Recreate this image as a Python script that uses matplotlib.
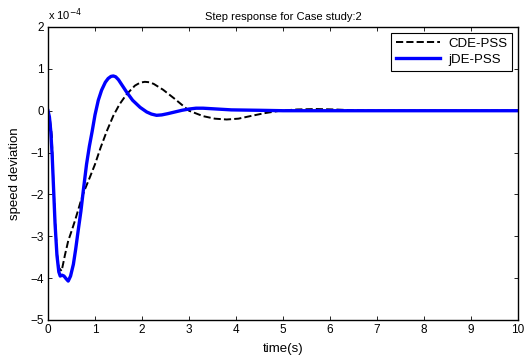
import matplotlib
matplotlib.use("Agg")
import matplotlib.pyplot as plt

plt.rcParams['font.family'] = ['Liberation Sans', 'DejaVu Sans']

# time (s) and speed deviation (x 1e-4)
t_cde = [0, 0.04, 0.08, 0.11, 0.15, 0.19, 0.23, 0.29, 0.36, 0.43, 0.50, 0.57,
         0.64, 0.70, 0.77, 0.88, 1.0, 1.12, 1.25, 1.39, 1.52, 1.67, 1.85,
         1.96, 2.06, 2.16, 2.25, 2.45, 2.7, 3.0, 3.3, 3.55, 3.8, 4.05, 4.3, 4.6, 4.94,
         5.3, 5.7, 6.1, 6.5, 7, 8, 9, 10]
y_cde = [0, -0.2, -0.6, -1.6, -2.6, -3.4, -3.75, -3.83, -3.45, -3.11, -2.88, -2.64,
         -2.38, -2.15, -1.92, -1.62, -1.28, -0.88, -0.49, -0.12, 0.15, 0.39, 0.6,
         0.67, 0.69, 0.68, 0.64, 0.5, 0.28, 0.0, -0.13, -0.19, -0.21, -0.19, -0.13, -0.06, 0.0,
         0.03, 0.04, 0.03, 0.01, 0, 0, 0, 0]

t_jde = [0, 0.03, 0.06, 0.09, 0.12, 0.15, 0.19, 0.23, 0.26, 0.30, 0.34, 0.39, 0.43,
         0.48, 0.54, 0.59, 0.64, 0.70, 0.75, 0.82, 0.88, 0.94, 1.0, 1.07,
         1.14, 1.22, 1.28, 1.34, 1.39, 1.44, 1.50, 1.57, 1.67, 1.80, 1.96, 2.1, 2.2, 2.31, 2.42, 2.55,
         2.7, 2.85, 3.0, 3.15, 3.3, 3.6, 3.9, 4.5, 5, 6, 7, 8, 9, 10]
y_jde = [0, -0.15, -0.5, -1.1, -1.9, -2.7, -3.45, -3.85, -3.95, -3.93, -3.95, -4.02, -4.07,
         -3.95, -3.67, -3.3, -2.88, -2.4, -1.92, -1.28, -0.85, -0.49, -0.1, 0.25,
         0.49, 0.68, 0.77, 0.82, 0.83, 0.81, 0.74, 0.62, 0.45, 0.25, 0.08, -0.03, -0.08, -0.11, -0.1, -0.07,
         -0.03, 0.01, 0.04, 0.06, 0.06, 0.04, 0.02, 0.01, 0, 0, 0, 0, 0, 0]

xticks = list(range(0, 11))
yticks = [-5, -4, -3, -2, -1, 0, 1, 2]

fig = plt.figure(figsize=(5.24, 3.58), dpi=100)
ax = fig.add_axes([48/524, 1-320/358, (518-48)/524, (320-27)/358])

ax.plot(t_cde, y_cde, 'k--', lw=1.4, label='CDE-PSS')
ax.plot(t_jde, y_jde, color='#0000ff', lw=2.4, label='jDE-PSS')

ax.set_xlim(0, 10)
ax.set_ylim(-5, 2)
ax.set_xticks(xticks)
ax.set_yticks(yticks)
ax.tick_params(direction='in', top=True, right=True, labelsize=8.5, length=3,
               width=0.6, pad=3)
for s in ax.spines.values():
    s.set_linewidth(1.0)

ax.set_title('Step response for Case study:2', fontsize=8, pad=5)
ax.set_xlabel('time(s)', fontsize=9.5, labelpad=5)
ax.set_ylabel('speed deviation', fontsize=9.5, labelpad=7)
ax.text(0.0, 1.012, r'x 10$^{-4}$', transform=ax.transAxes, fontsize=8,
        ha='left', va='bottom')

leg = ax.legend(loc='upper right', fontsize=9.5, fancybox=False, framealpha=1,
                edgecolor='black', borderaxespad=0.45, handlelength=3.4,
                borderpad=0.35, labelspacing=0.3, handletextpad=0.6)
leg.get_frame().set_linewidth(0.8)

fig.savefig('out.png', dpi=100)
